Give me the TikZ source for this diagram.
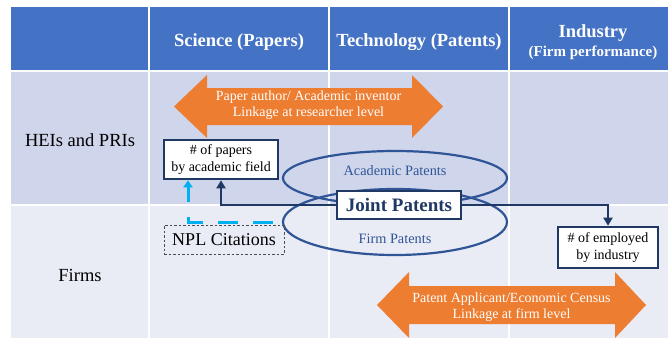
\documentclass[tikz,border=0pt]{standalone}
\usepackage{fontspec}
\setmainfont{Liberation Serif}
\usetikzlibrary{arrows.meta,calc}
\definecolor{hdr}{HTML}{4472C4}
\definecolor{rowa}{HTML}{CFD5EA}
\definecolor{rowb}{HTML}{E9EBF5}
\definecolor{orng}{HTML}{ED7D31}
\definecolor{navy}{HTML}{203864}
\definecolor{ellc}{HTML}{2F5597}
\definecolor{cyanc}{HTML}{00B0F0}
\newcommand\fsz[2]{\fontsize{#1}{#2}\selectfont}
\begin{document}
\begin{tikzpicture}[x=1pt,y=-1pt,
  hdrtext/.style={text=white,font=\bfseries\fsz{18.5}{20},align=center,inner sep=0pt},
  rowlabel/.style={font=\fsz{18.5}{20},inner sep=0pt},
  infobox/.style={draw=navy,line width=2.6pt,fill=white,align=center,font=\fsz{14}{16.5},inner sep=0pt},
  jointbox/.style={draw=navy,line width=2.6pt,fill=white,text=navy,font=\bfseries\fsz{19}{21},inner sep=0pt,minimum width=124pt,minimum height=28pt},
  nplbox/.style={draw=black!70,line width=0.9pt,dash pattern=on 2.5pt off 2pt,font=\fsz{18}{20},inner sep=0pt,minimum width=120pt,minimum height=29pt},
  arrowtext/.style={text=white,align=center,font=\fsz{14}{16.5},inner sep=0pt},
  elltext/.style={text=ellc,font=\fsz{14.3}{16},inner sep=0pt},
  patell/.style={draw=ellc,line width=2.2pt},
  conn/.style={draw=navy,line width=2.8pt,-{Triangle[length=8pt,width=9pt]}},
  npllink/.style={draw=cyanc,line width=3pt,dash pattern=on 20pt off 15pt,-{Triangle[length=7pt,width=9pt]}},
  gridline/.style={draw=white,line width=1.5pt}
]
\useasboundingbox (0,0) rectangle (668,338);
% table
\fill[white] (0,0) rectangle (668,338);
\fill[hdr] (11,7) rectangle (668,71);
\fill[rowa] (11,71) rectangle (668,205);
\fill[rowb] (11,205) rectangle (668,338);
\draw[gridline] (11,71) -- (668,71);
\draw[gridline] (11,205) -- (668,205);
\draw[gridline] (149,7) -- (149,338);
\draw[gridline] (329,7) -- (329,338);
\draw[gridline] (509,7) -- (509,338);
% headers
\node[hdrtext] (hsci) at (239,42) {Science (Papers)};
\node[hdrtext] (htech) at (419,42) {Technology (Patents)};
\node[hdrtext] (hind) at (593,33) {Industry};
\node[hdrtext,font=\bfseries\fsz{15}{17}] (hfirm) at (593,53) {(Firm performance)};
\node[rowlabel] (rhei) at (80,140) {HEIs and PRIs};
\node[rowlabel] (rfirms) at (80,275) {Firms};
% orange linkage arrows
\fill[orng] (174,106.5) -- (207,75) -- (207,88) -- (412,88) -- (412,75) -- (443,106.5)
  -- (412,138) -- (412,125) -- (207,125) -- (207,138) -- cycle;
\node[arrowtext] (linkres) at (308.5,105) {Paper author/ Academic inventor\\Linkage at researcher level};
\fill[orng] (377,305) -- (409,272) -- (409,286) -- (615,286) -- (615,272) -- (646,305)
  -- (615,338) -- (615,324) -- (409,324) -- (409,338) -- cycle;
\node[arrowtext] (linkfirm) at (511.5,307) {Patent Applicant/Economic Census\\Linkage at firm level};
% ellipses
\draw[patell] (395,178) ellipse [x radius=112pt, y radius=27pt];
\draw[patell] (395,222) ellipse [x radius=112pt, y radius=33pt];
\node[elltext] (acad) at (395,171) {Academic Patents};
\node[elltext] (firmpat) at (395,239) {Firm Patents};
% boxes
\node[infobox,minimum width=114pt,minimum height=39pt] (papers) at (221,159.5) {\# of papers\\by academic field};
\node[infobox,minimum width=100pt,minimum height=41pt] (employed) at (608,247.5) {\# of employed\\by industry};
\node[nplbox] (npl) at (224,239.5) {NPL Citations};
\node[jointbox] (joint) at (399,205) {Joint Patents};
\coordinate (npltop) at (273,222);
% connectors
\draw[conn] (joint.west) -| (papers.south);
\draw[conn] (joint.east) -| (employed.north);
\draw[npllink] (npltop) -| ([xshift=-33pt]papers.south);
\end{tikzpicture}
\end{document}
